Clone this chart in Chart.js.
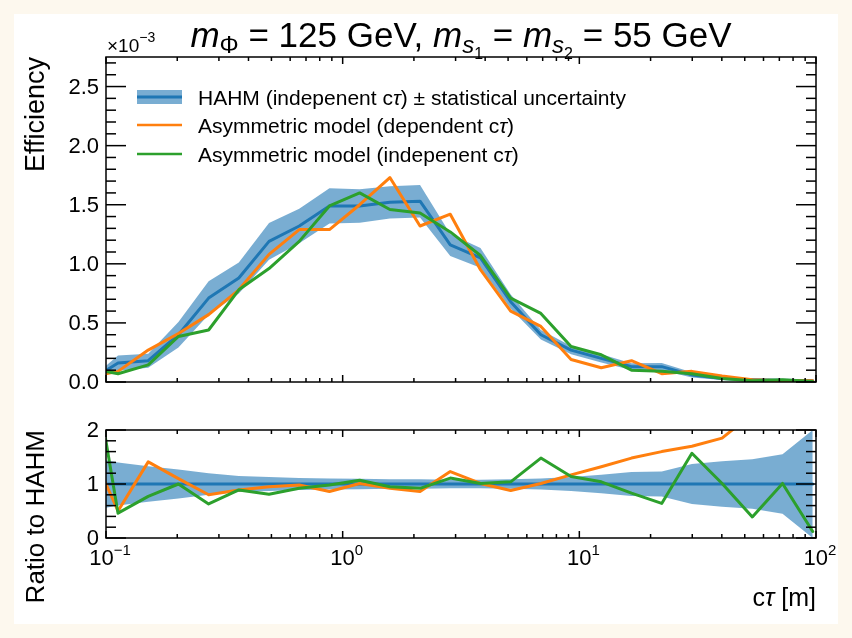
<!DOCTYPE html>
<html>
<head>
<meta charset="utf-8">
<script src="https://cdn.jsdelivr.net/npm/chart.js@4.4.1/dist/chart.umd.min.js"></script>
<style>
  html, body { margin: 0; padding: 0; background: #fdf8ee; }
  #paper { position: absolute; left: 14px; top: 14px; width: 824px; height: 610px; background: #fff; }
  canvas { position: absolute; left: 0; }
  #top { top: 0; }
  #bot { top: 400px; }
</style>
</head>
<body>
<div id="paper"></div>
<canvas id="top" width="852" height="410"></canvas>
<canvas id="bot" width="852" height="238"></canvas>
<script>
// c*tau values of the points [m]
const ctau = [0.0838, 0.1124, 0.1508, 0.2023, 0.2714, 0.3641, 0.4885, 0.6554, 0.8793, 1.180,
              1.583, 2.123, 2.849, 3.822, 5.128, 6.879, 9.229, 12.38, 16.61, 22.29,
              29.90, 40.11, 53.82, 72.20, 96.87];

// efficiency in units of 1e-3
const effHAHM  = [0.005, 0.16, 0.18, 0.40, 0.71, 0.88, 1.19, 1.32, 1.49, 1.49,
                  1.52, 1.53, 1.16, 1.05, 0.68, 0.40, 0.27, 0.20, 0.13, 0.13,
                  0.06, 0.03, 0.02, 0.015, 0.01];
const effDep   = [0.04, 0.09, 0.27, 0.41, 0.57, 0.78, 1.08, 1.29, 1.29, 1.50,
                  1.73, 1.32, 1.42, 0.95, 0.60, 0.47, 0.19, 0.12, 0.18, 0.07,
                  0.09, 0.05, 0.02, 0.01, 0.01];
const effIndep = [0.12, 0.07, 0.145, 0.385, 0.44, 0.78, 0.96, 1.19, 1.49, 1.60,
                  1.46, 1.43, 1.27, 1.07, 0.71, 0.58, 0.30, 0.23, 0.10, 0.09,
                  0.07, 0.03, 0.01, 0.02, 0.005];
// relative statistical uncertainty of HAHM
const relErr   = [0.50, 0.40, 0.33, 0.27, 0.20, 0.15, 0.13, 0.11, 0.10, 0.095,
                  0.09, 0.09, 0.08, 0.08, 0.09, 0.10, 0.13, 0.17, 0.22, 0.23,
                  0.37, 0.42, 0.46, 0.55, 1.0];

// ratio panel
const ratioDep   = [1.75, 0.50, 1.41, 1.10, 0.80, 0.89, 0.95, 0.98, 0.86, 1.01,
                    0.92, 0.86, 1.23, 1.01, 0.88, 1.01, 1.17, 1.32, 1.48, 1.60,
                    1.70, 1.85, 2.3, null, null];
const ratioIndep = [3.8, 0.46, 0.77, 1.0, 0.63, 0.89, 0.81, 0.92, 0.98, 1.07,
                    0.95, 0.92, 1.11, 1.01, 1.04, 1.48, 1.14, 1.04, 0.83, 0.64,
                    1.57, 1.01, 0.39, 1.01, 0.12];

const yTicksTop = [0.0, 0.5, 1.0, 1.5, 2.0, 2.5];
const yTicksBot = [0, 1, 2];
const xTickExp = [-1, 0, 1, 2];

const C0 = '#1f77b4', C1 = '#ff7f0e', C2 = '#2ca02c', BAND = 'rgba(31,119,180,0.6)';
const FONT = '"Liberation Sans", Arial, Helvetica, sans-serif';

const pts = (ys) => ctau.map((x, i) => ({ x: x, y: ys[i] }));

function line(ctx, x1, y1, x2, y2) {
  ctx.beginPath(); ctx.moveTo(x1, y1); ctx.lineTo(x2, y2); ctx.stroke();
}

// frame + inward ticks on all four sides
function drawAxes(chart, yMajor, yMinorStep, yMin, yMax) {
  const ctx = chart.ctx, a = chart.chartArea, xs = chart.scales.x, ys = chart.scales.y;
  ctx.save();
  ctx.strokeStyle = '#000';
  ctx.lineWidth = 1.5;
  ctx.strokeRect(a.left, a.top, a.right - a.left, a.bottom - a.top);
  for (let e = -1; e <= 2; e++) {
    for (let m = 1; m <= 9; m++) {
      const v = m * Math.pow(10, e);
      if (e === 2 && m > 1) continue;
      const px = xs.getPixelForValue(v);
      const len = m === 1 ? 7 : 4;
      line(ctx, px, a.bottom, px, a.bottom - len);
      line(ctx, px, a.top, px, a.top + len);
    }
  }
  const n = Math.round((yMax - yMin) / yMinorStep);
  for (let i = 0; i <= n; i++) {
    const v = yMin + i * yMinorStep;
    const py = ys.getPixelForValue(v);
    if (py < a.top - 0.5) continue;
    const major = yMajor.some(t => Math.abs(t - v) < 1e-6);
    const len = major ? 20 : 10;
    line(ctx, a.left, py, a.left + len, py);
    line(ctx, a.right, py, a.right - len, py);
  }
  ctx.restore();
}

function drawYLabels(chart, ticks, fmt) {
  const ctx = chart.ctx, a = chart.chartArea, ys = chart.scales.y;
  ctx.save();
  ctx.fillStyle = '#000';
  ctx.font = '22px ' + FONT;
  ctx.textAlign = 'right';
  ctx.textBaseline = 'middle';
  ticks.forEach(t => ctx.fillText(fmt(t), a.left - 7, ys.getPixelForValue(t) + 1));
  ctx.restore();
}

function drawRotated(ctx, text, x, yTop, size) {
  ctx.save();
  ctx.translate(x, yTop);
  ctx.rotate(-Math.PI / 2);
  ctx.font = size + 'px ' + FONT;
  ctx.textAlign = 'right';
  ctx.textBaseline = 'middle';
  ctx.fillStyle = '#000';
  ctx.fillText(text, 0, 0);
  ctx.restore();
}

// sequence of text pieces along one baseline
function drawRich(ctx, parts, x, y, align) {
  ctx.save();
  ctx.fillStyle = '#000';
  ctx.textBaseline = 'alphabetic';
  ctx.textAlign = 'left';
  let w = 0;
  parts.forEach(p => { ctx.font = (p.it ? 'italic ' : '') + p.s + 'px ' + FONT; w += ctx.measureText(p.t).width; });
  let cx = align === 'center' ? x - w / 2 : (align === 'right' ? x - w : x);
  parts.forEach(p => {
    ctx.font = (p.it ? 'italic ' : '') + p.s + 'px ' + FONT;
    ctx.fillText(p.t, cx, y + (p.dy || 0));
    cx += ctx.measureText(p.t).width;
  });
  ctx.restore();
}

const topDecor = {
  id: 'topDecor',
  afterDraw(chart) {
    const ctx = chart.ctx, a = chart.chartArea;
    drawAxes(chart, yTicksTop, 0.1, 0, 2.75);
    drawYLabels(chart, yTicksTop, t => t.toFixed(1));
    drawRotated(ctx, 'Efficiency', 37, a.top, 27);
    // multiplier
    drawRich(ctx, [{ t: '×10', s: 19 }, { t: '−3', s: 14, dy: -10 }], a.left + 1, 52, 'left');
    // title
    const T = 35, S = 24, SS = 16;
    drawRich(ctx, [
      { t: 'm', s: T, it: true }, { t: 'Φ', s: S, dy: 6 },
      { t: ' = 125 GeV, ', s: T },
      { t: 'm', s: T, it: true }, { t: 's', s: S, it: true, dy: 6 }, { t: '1', s: SS, dy: 12 },
      { t: ' = ', s: T },
      { t: 'm', s: T, it: true }, { t: 's', s: S, it: true, dy: 6 }, { t: '2', s: SS, dy: 12 },
      { t: ' = 55 GeV', s: T }
    ], (a.left + a.right) / 2, 47, 'center');
    // legend
    ctx.save();
    const lx1 = 137, lx2 = 182, tx = 198;
    const rows = [97, 125, 154];
    ctx.fillStyle = BAND;
    ctx.fillRect(lx1, rows[0] - 7, lx2 - lx1, 14);
    ctx.lineWidth = 3;
    ctx.strokeStyle = C0; line(ctx, lx1, rows[0], lx2, rows[0]);
    ctx.lineWidth = 2.5;
    ctx.strokeStyle = C1; line(ctx, lx1, rows[1], lx2, rows[1]);
    ctx.strokeStyle = C2; line(ctx, lx1, rows[2], lx2, rows[2]);
    ctx.restore();
    const L = 21;
    drawRich(ctx, [{ t: 'HAHM (indepenent c', s: L }, { t: 'τ', s: L, it: true }, { t: ') ± statistical uncertainty', s: L }], tx, rows[0] + 7.5, 'left');
    drawRich(ctx, [{ t: 'Asymmetric model (dependent c', s: L }, { t: 'τ', s: L, it: true }, { t: ')', s: L }], tx, rows[1] + 7.5, 'left');
    drawRich(ctx, [{ t: 'Asymmetric model (indepenent c', s: L }, { t: 'τ', s: L, it: true }, { t: ')', s: L }], tx, rows[2] + 7.5, 'left');
  }
};

const botDecor = {
  id: 'botDecor',
  afterDraw(chart) {
    const ctx = chart.ctx, a = chart.chartArea, xs = chart.scales.x;
    drawAxes(chart, yTicksBot, 0.2, 0, 2);
    drawYLabels(chart, yTicksBot, t => String(t));
    drawRotated(ctx, 'Ratio to HAHM', 37, a.top, 26);
    xTickExp.forEach(e => {
      const px = xs.getPixelForValue(Math.pow(10, e));
      const sup = (e < 0 ? '−' : '') + Math.abs(e);
      drawRich(ctx, [{ t: '10', s: 22 }, { t: sup, s: 15, dy: -10 }], px + 4, a.bottom + 27, 'center');
    });
    drawRich(ctx, [{ t: 'c', s: 25 }, { t: 'τ', s: 25, it: true }, { t: ' [m]', s: 25 }], a.right, a.bottom + 68, 'right');
  }
};

const common = {
  responsive: false,
  animation: false,
  events: [],
  plugins: { legend: { display: false }, tooltip: { enabled: false } },
  elements: { point: { radius: 0 }, line: { tension: 0, borderJoinStyle: 'round', borderCapStyle: 'round' } }
};

new Chart(document.getElementById('top'), {
  type: 'line',
  data: {
    datasets: [
      { data: pts(effHAHM.map((v, i) => v * (1 - relErr[i]))), borderWidth: 0, fill: false, order: 5, clip: 0 },
      { data: pts(effHAHM.map((v, i) => v * (1 + relErr[i]))), borderWidth: 0, fill: '-1', backgroundColor: BAND, order: 4, clip: 0 },
      { data: pts(effHAHM), borderColor: C0, borderWidth: 3, fill: false, order: 3, clip: 0 },
      { data: pts(effDep), borderColor: C1, borderWidth: 3, fill: false, order: 2, clip: 0 },
      { data: pts(effIndep), borderColor: C2, borderWidth: 3, fill: false, order: 1, clip: 0 }
    ]
  },
  options: Object.assign({}, common, {
    layout: { padding: { left: 106, top: 57, right: 36, bottom: 28 } },
    scales: {
      x: { type: 'logarithmic', min: 0.1, max: 100, display: false },
      y: { type: 'linear', min: 0, max: 2.75, display: false }
    }
  }),
  plugins: [topDecor]
});

new Chart(document.getElementById('bot'), {
  type: 'line',
  data: {
    datasets: [
      { data: pts(relErr.map(r => 1 - r)), borderWidth: 0, fill: false, order: 5, clip: 0 },
      { data: pts(relErr.map(r => 1 + r)), borderWidth: 0, fill: '-1', backgroundColor: BAND, order: 4, clip: 0 },
      { data: pts(ctau.map(() => 1)), borderColor: C0, borderWidth: 3, fill: false, order: 3, clip: 0 },
      { data: pts(ratioDep), borderColor: C1, borderWidth: 3, fill: false, order: 2, clip: 0, spanGaps: false },
      { data: pts(ratioIndep), borderColor: C2, borderWidth: 3, fill: false, order: 1, clip: 0 }
    ]
  },
  options: Object.assign({}, common, {
    layout: { padding: { left: 106, top: 30, right: 36, bottom: 100 } },
    scales: {
      x: { type: 'logarithmic', min: 0.1, max: 100, display: false },
      y: { type: 'linear', min: 0, max: 2, display: false }
    }
  }),
  plugins: [botDecor]
});
</script>
</body>
</html>
